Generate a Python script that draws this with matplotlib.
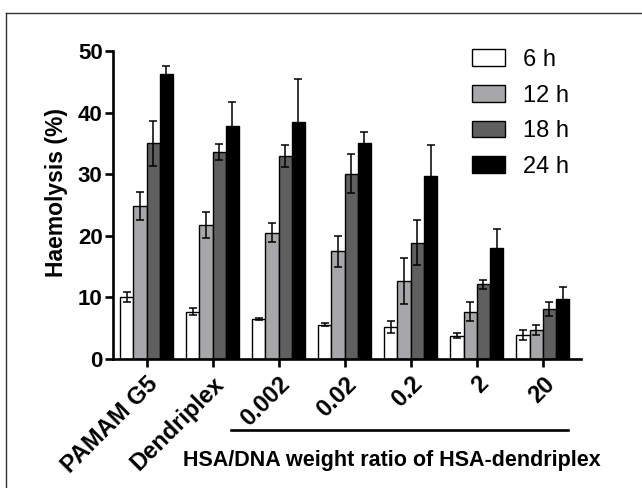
import matplotlib
matplotlib.use("Agg")
import matplotlib.pyplot as plt
from matplotlib.lines import Line2D
import numpy as np

plt.rcParams['font.family'] = ['Liberation Sans', 'DejaVu Sans']

# groups on the x axis
groups = ['PAMAM G5', 'Dendriplex', '0.002', '0.02', '0.2', '2', '20']
series = ['6 h', '12 h', '18 h', '24 h']
colors = ['#ffffff', '#a7a7a9', '#5f5f5f', '#000000']

# mean haemolysis (%) per time point, one value per group
h6 = [10.0, 7.7, 6.5, 5.6, 5.2, 3.8, 3.9]
h12 = [24.8, 21.7, 20.5, 17.5, 12.7, 7.7, 4.7]
h18 = [35.0, 33.6, 33.0, 30.1, 18.9, 12.1, 8.1]
h24 = [46.2, 37.8, 38.4, 35.1, 29.7, 18.1, 9.8]

# error bars (sd)
e6 = [0.8, 0.6, 0.2, 0.25, 1.0, 0.4, 0.8]
e12 = [2.3, 2.1, 1.5, 2.5, 3.7, 1.6, 0.8]
e18 = [3.7, 1.3, 1.8, 3.2, 3.7, 0.8, 1.2]
e24 = [1.3, 4.0, 7.1, 1.8, 5.0, 3.0, 1.9]

means = [h6, h12, h18, h24]
errs = [e6, e12, e18, e24]

fig = plt.figure(figsize=(6.42, 4.88), dpi=100)
ax = fig.add_axes([113/642, 1-359/488, (581-113)/642, (359-51)/488])

x = np.arange(len(groups))
w = 0.2
for i in range(4):
    pos = x + (i - 1.5) * w
    ax.bar(pos, means[i], w, color=colors[i], edgecolor='black',
           linewidth=1.0, label=series[i], zorder=2)
    ax.errorbar(pos, means[i], yerr=errs[i], fmt='none', ecolor='black',
                elinewidth=1.1, capsize=3, capthick=1.1, zorder=3)

ax.set_xlim(-0.51, 6.58)
ax.set_ylim(0, 50)
ax.set_yticks([0, 10, 20, 30, 40, 50])
ax.set_xticks(x)
ax.set_xticklabels(groups, rotation=45, ha='right', rotation_mode='anchor',
                   fontsize=17, fontweight='bold')
for lab in ax.get_yticklabels():
    lab.set_fontweight('bold')
    lab.set_fontsize(16)

for s in ['top', 'right']:
    ax.spines[s].set_visible(False)
for s in ['left', 'bottom']:
    ax.spines[s].set_linewidth(1.9)
ax.tick_params(axis='both', direction='out', width=1.9, length=5.5, pad=2)
ax.tick_params(axis='x', pad=4)

ax.set_ylabel('Haemolysis (%)', fontsize=16.5, fontweight='bold')
ax.yaxis.set_label_coords(-0.097, 0.542)

# line and caption under the HSA ratio groups
trans = ax.get_xaxis_transform()
ax.plot([1.285, 6.38], [-0.2305, -0.2305], color='black', lw=1.9,
        transform=trans, clip_on=False)
ax.text(3.71, -0.331, 'HSA/DNA weight ratio of HSA-dendriplex', transform=trans,
        ha='center', va='center', fontsize=15.5, fontweight='bold')

ax.legend(loc='upper left', bbox_to_anchor=(472/642, 1-49/488),
          bbox_transform=fig.transFigure, frameon=False, fontsize=17,
          handlelength=1.4, handleheight=0.71, labelspacing=0.58,
          handletextpad=0.76, borderpad=0, borderaxespad=0)

# thin frame on the top and left of the picture
fig.add_artist(Line2D([6/642, 6/642], [0, 1-13/488], color='#333333', lw=1.0))
fig.add_artist(Line2D([6/642, 1], [1-13/488, 1-13/488], color='#333333', lw=1.0))

fig.savefig('out.png', dpi=100)
